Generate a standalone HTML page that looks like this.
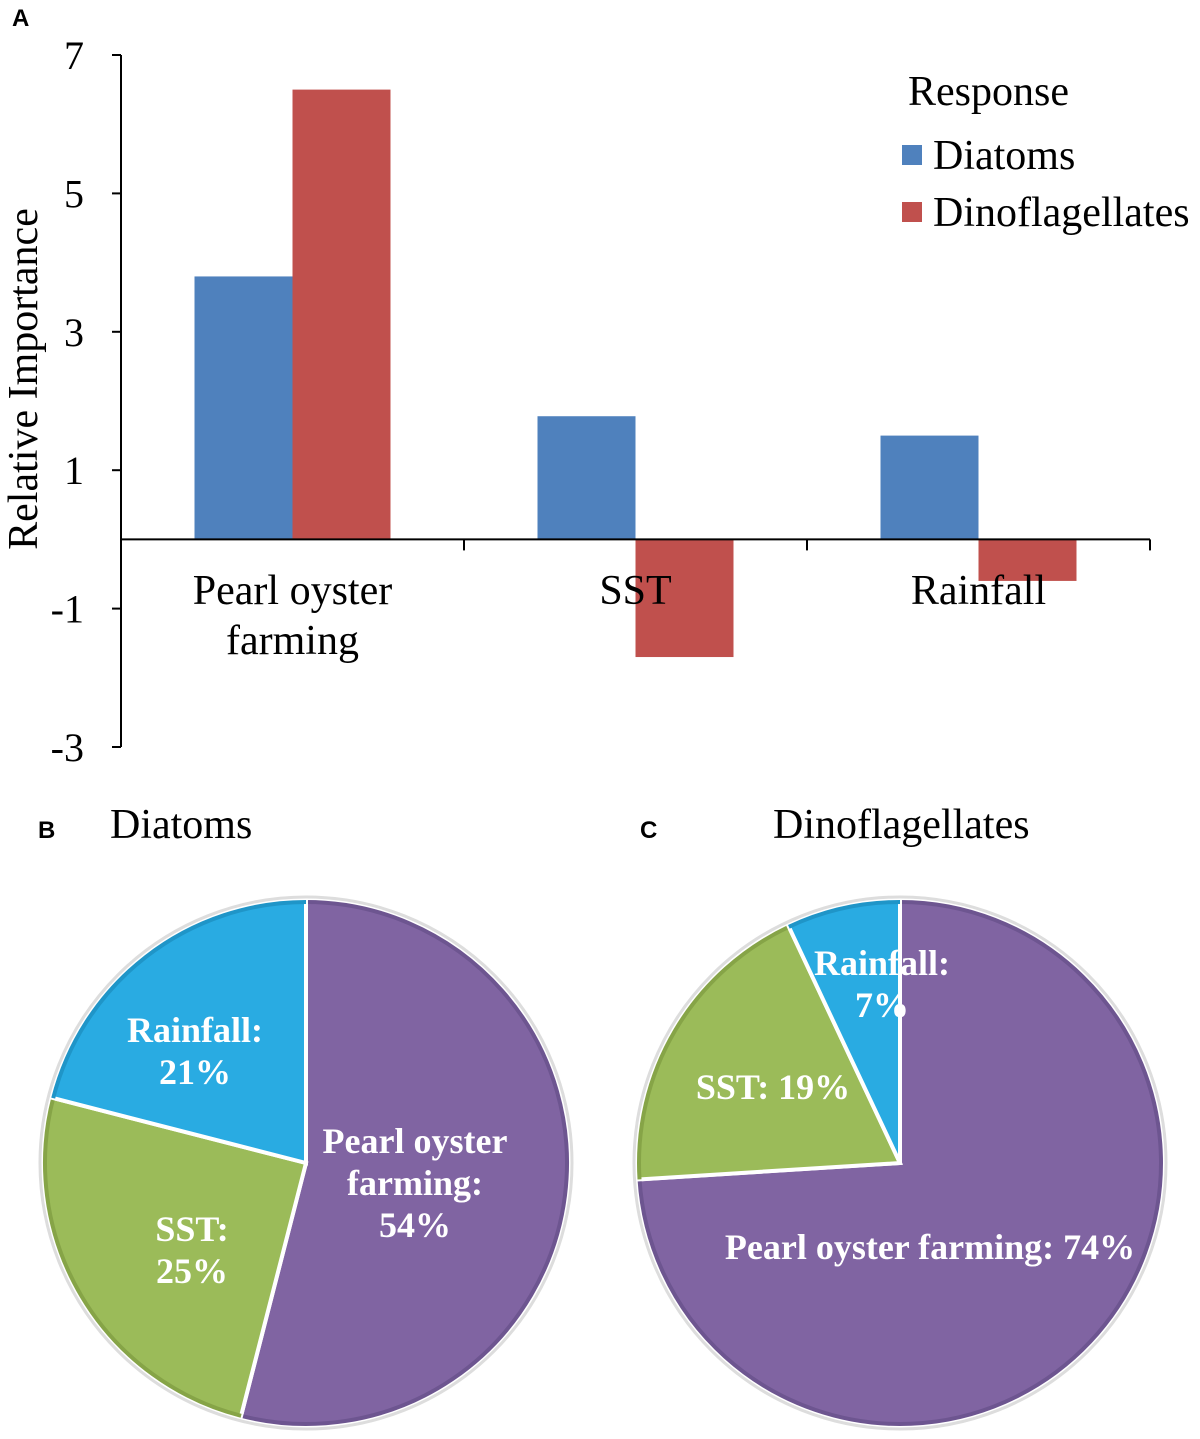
<!DOCTYPE html>
<html><head><meta charset="utf-8"><style>
body{margin:0;background:#fff;width:1200px;height:1439px;overflow:hidden}
svg{display:block}
text{font-family:"Liberation Serif",serif}
</style></head><body>
<svg id="s" width="1200" height="1439">
<text x="12" y="26" font-weight="bold" font-size="24" style="font-family:'Liberation Sans',sans-serif">A</text>
<text x="38" y="838" font-weight="bold" font-size="24" style="font-family:'Liberation Sans',sans-serif">B</text>
<text x="640" y="838" font-weight="bold" font-size="24" style="font-family:'Liberation Sans',sans-serif">C</text>
<text x="110" y="838" font-size="42">Diatoms</text>
<text x="773" y="838" font-size="42">Dinoflagellates</text>
<text transform="translate(37,379) rotate(-90)" text-anchor="middle" font-size="42">Relative Importance</text>
<text x="908" y="105" font-size="42">Response</text>
<rect x="902" y="145" width="20" height="20" fill="#4F81BD"/>
<text x="933" y="169" font-size="42">Diatoms</text>
<rect x="902" y="202" width="20" height="20" fill="#C0504D"/>
<text x="933" y="226" font-size="42">Dinoflagellates</text>
<g id="bars"></g><g id="pies"></g>
</svg>
<script>
const categories=["Pearl oyster farming","SST","Rainfall"];
const catLines=[["Pearl oyster","farming"],["SST"],["Rainfall"]];
const diatoms=[3.8,1.78,1.5];
const dinos=[6.5,-1.7,-0.6];
const yTicks=[7,5,3,1,-1,-3];
const pieB=[54,25,21];
const pieC=[74,19,7];
const pieBLabels=[["Pearl oyster","farming:","54%"],["SST:","25%"],["Rainfall:","21%"]];
const pieCLabels=[["Pearl oyster farming: 74%"],["SST: 19%"],["Rainfall:","7%"]];
const NS="http://www.w3.org/2000/svg";
function mk(t,a,p){const e=document.createElementNS(NS,t);for(const k in a)e.setAttribute(k,a[k]);p.appendChild(e);return e;}
const g=document.getElementById('bars');
const x0=121,x1=1150,yTop=55,yBot=747,vMax=7,vMin=-3;
const y=v=>yTop+(vMax-v)*(yBot-yTop)/(vMax-vMin);
const band=(x1-x0)/categories.length;
const ax=mk('line',{x1:x0,y1:yTop,x2:x0,y2:yBot,stroke:'#000','stroke-width':2},g);

yTicks.forEach(t=>{
 const l=mk('line',{x1:x0-9,x2:x0,y1:y(t),y2:y(t),stroke:'#000','stroke-width':2},g);
 
 const tx=mk('text',{x:x0-37,y:y(t)+14,'text-anchor':'end','font-size':40},g);tx.textContent=t;
 
});
const bw=98;
categories.forEach((c,i)=>{
 const cx=x0+band*(i+0.5);
 [[diatoms[i],'#4F81BD',cx-bw,'diatoms'],[dinos[i],'#C0504D',cx,'dinoflagellates']].forEach(([v,col,bx,n])=>{
  const r=mk('rect',{x:bx,width:bw,y:Math.min(y(v),y(0)),height:Math.abs(y(v)-y(0)),fill:col},g);
  
 });
 catLines[i].forEach((ln,j)=>{const t=mk('text',{x:cx,y:604+j*50,'text-anchor':'middle','font-size':42},g);t.textContent=ln;
 });
 const tk=mk('line',{x1:x0+band*(i+1),x2:x0+band*(i+1),y1:y(0),y2:y(0)+11,stroke:'#000','stroke-width':2},g);
 
});
const xa=mk('line',{x1:x0,x2:x1,y1:y(0),y2:y(0),stroke:'#000','stroke-width':2},g);

const pg=document.getElementById('pies');
const cols=['#8064A2','#9BBB59','#29ABE2'];
const edges=['#6d5590','#86a447','#1f95c8'];
const names=['pearl-oyster-farming','sst','rainfall'];
function pie(vals,labels,cx,cy,R,lpos,id){
 let a=0;
 vals.forEach((v,i)=>{
  const a0=a/100*2*Math.PI,a1=(a+v)/100*2*Math.PI;a+=v;
  const p=(ang,r)=>[cx+r*Math.sin(ang),cy-r*Math.cos(ang)];
  const [sx,sy]=p(a0,R),[ex,ey]=p(a1,R);
  const path=mk('path',{d:`M${cx},${cy}L${sx},${sy}A${R},${R} 0 ${a1-a0>Math.PI?1:0} 1 ${ex},${ey}Z`,fill:cols[i],stroke:'#fff','stroke-width':4},pg);
  
  const arc=mk('path',{d:`M${p(a0,R-3).join(',')}A${R-3},${R-3} 0 ${a1-a0>Math.PI?1:0} 1 ${p(a1,R-3).join(',')}`,fill:'none',stroke:edges[i],'stroke-width':4},pg);
  
  labels[i].forEach((ln,j)=>{const t=mk('text',{x:lpos[i][0],y:lpos[i][1]+j*42,'text-anchor':'middle','font-size':36,'font-weight':'bold',fill:'#fff'},pg);t.textContent=ln;
   });
 });
 const o=mk('circle',{cx,cy,r:R+2,fill:'none',stroke:'#ddd','stroke-width':3},pg);
 
}
pie(pieB,pieBLabels,306,1163,264,[[415,1153],[192,1241],[195,1042]],'pie-b');
pie(pieC,pieCLabels,900,1163,264,[[930,1259],[773,1099],[882,975]],'pie-c');
</script>
</body></html>
